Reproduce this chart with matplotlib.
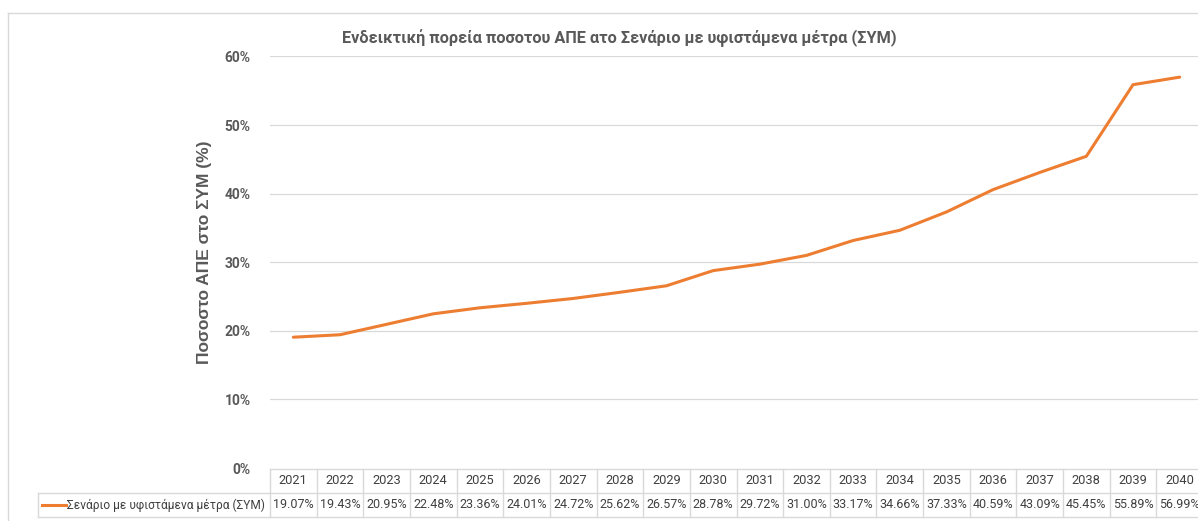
import matplotlib
matplotlib.use("Agg")
import matplotlib.pyplot as plt
from matplotlib.transforms import blended_transform_factory
from matplotlib.lines import Line2D

years = [str(y) for y in range(2021, 2041)]
values = [19.07, 19.43, 20.95, 22.48, 23.36, 24.01, 24.72, 25.62, 26.57, 28.78,
          29.72, 31.00, 33.17, 34.66, 37.33, 40.59, 43.09, 45.45, 55.89, 56.99]
series_name = "Σενάριο με υφιστάμενα μέτρα (ΣΥΜ)"
title = "Ενδεικτική πορεία ποσοτου ΑΠΕ ατο Σενάριο με υφιστάμενα μέτρα (ΣΥΜ)"
ylabel = "Ποσοστο ΑΠΕ στο ΣΥΜ (%)"
yticks = [0, 10, 20, 30, 40, 50, 60]

NARROW = ['Roboto', 'DejaVu Sans']
GRAY = '#595959'
TXT = '#404040'
ORANGE = '#ED7D31'
GRID = '#d9d9d9'

W, H = 1198, 521
fig = plt.figure(figsize=(W / 100, H / 100), dpi=100)
ax = fig.add_axes([270 / W, (H - 468) / H, (1203 - 270) / W, (468 - 56.5) / H])

x = list(range(len(years)))
ax.plot(x, values, color=ORANGE, linewidth=2.2, solid_capstyle='round', zorder=3)
ax.set_xlim(-0.5, len(years) - 0.5)
ax.set_ylim(0, 60)
ax.set_yticks(yticks)
ax.set_yticklabels([f"{t}%" for t in yticks], fontsize=10, fontweight='bold',
                   color=GRAY, family=NARROW)
ax.tick_params(axis='y', length=0, pad=14)
ax.set_xticks([])
for t in yticks[1:]:
    ax.axhline(t, color=GRID, linewidth=0.9, zorder=1)
for s in ax.spines.values():
    s.set_visible(False)

fig.text(619 / W, (H - 38) / H, title, ha='center', va='center', fontsize=11.7,
         fontweight='bold', color=GRAY, family=NARROW)
fig.text(205 / W, (H - 252) / H, ylabel, ha='center', va='center', rotation=90,
         fontsize=12.5, fontweight='bold', color=GRAY,
         family=['Liberation Sans', 'DejaVu Sans'])

# data table
trans = blended_transform_factory(ax.transData, fig.transFigure)
y_top = (H - 469) / H
y_mid = (H - 493) / H
y_bot = (H - 517) / H
n = len(years)
lw = 1.0
for yy in (y_top, y_mid, y_bot):
    ax.add_line(Line2D([-0.5, n - 0.5], [yy, yy], transform=trans, color=GRID, lw=lw, clip_on=False))
for i in range(n + 1):
    ax.add_line(Line2D([i - 0.5, i - 0.5], [y_bot, y_top], transform=trans, color=GRID, lw=lw, clip_on=False))
for i, (yr, v) in enumerate(zip(years, values)):
    ax.text(i, (y_top + y_mid) / 2, yr, transform=trans, ha='center', va='center',
            fontsize=9.3, color=TXT, family=NARROW)
    ax.text(i, (y_mid + y_bot) / 2, f"{v:.2f}%", transform=trans, ha='center', va='center',
            fontsize=9.0, color=TXT, family=NARROW)
# legend key cell
xl = 38 / W
fig.add_artist(Line2D([xl, xl], [y_bot, y_mid], color=GRID, lw=lw))
fig.add_artist(Line2D([xl, 270 / W], [y_mid, y_mid], color=GRID, lw=lw))
fig.add_artist(Line2D([xl, 270 / W], [y_bot, y_bot], color=GRID, lw=lw))
fig.add_artist(Line2D([42 / W, 66 / W], [(y_mid + y_bot) / 2] * 2, color=ORANGE, lw=2.2))
fig.text(67 / W, (y_mid + y_bot) / 2, series_name, ha='left', va='center',
         fontsize=8.6, color=TXT, family=NARROW)
# chart border (left and top)
fig.add_artist(Line2D([8 / W, 8 / W], [0, (H - 13) / H], color=GRID, lw=1))
fig.add_artist(Line2D([8 / W, 1], [(H - 13) / H] * 2, color=GRID, lw=1))

fig.savefig("out.png", dpi=100)
